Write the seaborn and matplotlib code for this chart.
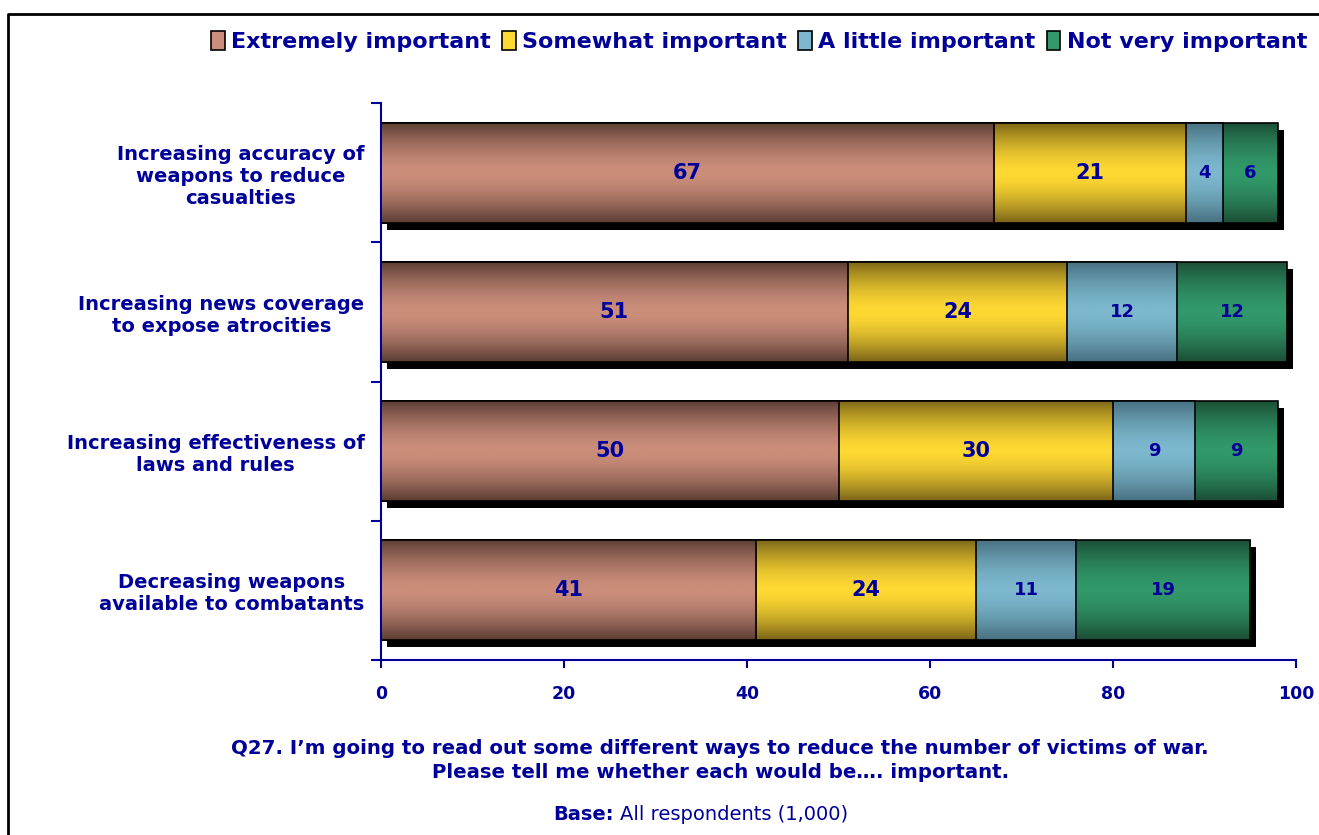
# Importar las bibliotecas necesarias
import numpy as np
import matplotlib
matplotlib.use("Agg")
import matplotlib.pyplot as plt
import seaborn as sns
from matplotlib.colors import LinearSegmentedColormap
from matplotlib.lines import Line2D
from matplotlib.patches import Patch, Rectangle
from matplotlib.transforms import offset_copy

# Datos del gráfico
categorias = [
    "Increasing accuracy of\nweapons to reduce\ncasualties",
    "Increasing news coverage\nto expose atrocities",
    "Increasing effectiveness of\nlaws and rules",
    "Decreasing weapons\navailable to combatants",
]
extremely = [67, 51, 50, 41]
somewhat = [21, 24, 30, 24]
little = [4, 12, 9, 11]
not_very = [6, 12, 9, 19]
nombres_series = ["Extremely important", "Somewhat important",
                  "A little important", "Not very important"]
x_ticks = [0, 20, 40, 60, 80, 100]

AZUL = "#000099"
# (color oscuro del borde, color claro del centro) para el degradado
colores = [("#5A3C32", "#CC8E7B"),
           ("#7A6418", "#FFD933"),
           ("#46707F", "#7DB8CE"),
           ("#1B4D34", "#31996A")]


def degradado(ax, parche, oscuro, claro, z):
    # Rellenar la barra con un degradado vertical oscuro-claro-oscuro
    cmap = LinearSegmentedColormap.from_list("g", [oscuro, claro])
    t = np.linspace(0, 1, 200)
    v = 1 - np.abs(2 * t - 1) ** 1.6
    x0, y0 = parche.get_x(), parche.get_y()
    w, h = parche.get_width(), parche.get_height()
    img = ax.imshow(v.reshape(-1, 1), cmap=cmap, vmin=0, vmax=1, aspect="auto",
                    extent=[x0, x0 + w, y0 + h, y0], zorder=z - 0.1,
                    interpolation="bilinear")
    img.set_clip_path(parche)


def dibujar_grafico():
    sns.set_style("white")
    plt.rcParams["font.family"] = ["DejaVu Sans"]

    series = [extremely, somewhat, little, not_very]
    acumulado = np.cumsum(series, axis=0)

    fig = plt.figure(figsize=(13.19, 8.35), dpi=100)
    ax = fig.add_axes([0.2889, 0.2096, 0.6937, 0.667])

    # Dibujar las barras apiladas desde el total hacia la primera serie
    for k in range(3, -1, -1):
        antes = len(ax.patches)
        sns.barplot(x=acumulado[k], y=categorias, orient="h", color=colores[k][1],
                    width=0.72, errorbar=None, edgecolor="black", linewidth=1.2,
                    ax=ax)
        z = 3 + (3 - k)
        for parche in ax.patches[antes:]:
            parche.set_facecolor("none")
            parche.set_zorder(z)
            degradado(ax, parche, colores[k][0], colores[k][1], z)
            if k == 3:
                # Sombra negra desplazada abajo a la derecha
                sombra = Rectangle((parche.get_x(), parche.get_y()),
                                   parche.get_width(), parche.get_height(),
                                   transform=offset_copy(ax.transData, fig=fig,
                                                         x=6, y=-7, units="dots"),
                                   facecolor="black", edgecolor="none", zorder=1)
                ax.add_patch(sombra)

    # Etiquetas de valores en el centro de cada segmento
    for k, valores in enumerate(series):
        for i, val in enumerate(valores):
            centro = acumulado[k][i] - val / 2
            ax.text(centro, i, str(val), ha="center", va="center", color=AZUL,
                    fontweight="bold", fontsize=15 if k < 2 else 13, zorder=20)

    # Ejes
    ax.set_xlim(0, 100)
    ax.set_ylim(3.5, -0.5)
    ax.set_xlabel("")
    ax.set_ylabel("")
    sns.despine(ax=ax)
    for lado in ["left", "bottom"]:
        ax.spines[lado].set_color(AZUL)
        ax.spines[lado].set_linewidth(1.5)

    ax.set_xticks(x_ticks, labels=[str(v) for v in x_ticks])
    ax.set_yticks([-0.5, 0.5, 1.5, 2.5, 3.5], labels=[])
    ax.set_yticks(range(len(categorias)), labels=categorias, minor=True)
    ax.tick_params(axis="x", direction="out", length=6, width=1.5, color=AZUL,
                   labelcolor=AZUL, labelsize=12.5, pad=12, bottom=True)
    ax.tick_params(axis="y", which="major", direction="out", length=7, width=1.5,
                   color=AZUL, left=True)
    ax.tick_params(axis="y", which="minor", length=0, pad=12, labelcolor=AZUL,
                   labelsize=14)
    for lbl in ax.get_xticklabels():
        lbl.set_fontweight("bold")
    for lbl in ax.get_yticklabels(minor=True):
        lbl.set_fontweight("bold")
        lbl.set_multialignment("center")

    # Leyenda superior
    manejadores = [Patch(facecolor=c[1], edgecolor="black", linewidth=1.2)
                   for c in colores]
    fig.legend(manejadores, nombres_series, loc="center right",
               bbox_to_anchor=(1.006, 0.95), ncol=4, frameon=False,
               handlelength=0.6, handleheight=0.9, handletextpad=0.3,
               columnspacing=0.5, prop=dict(weight="bold", size=16),
               labelcolor=AZUL)

    # Texto inferior
    fig.text(0.546, 1 - 748 / 835,
             "Q27. I\u2019m going to read out some different ways to reduce the number of victims of war.",
             ha="center", va="center", color=AZUL, fontweight="bold", fontsize=14.2)
    fig.text(0.546, 1 - 773 / 835,
             "Please tell me whether each would be\u2026. important.",
             ha="center", va="center", color=AZUL, fontweight="bold", fontsize=14.2)
    fig.text(614 / 1319, 1 - 815 / 835, "Base:", ha="right", va="center",
             color=AZUL, fontweight="bold", fontsize=14)
    fig.text(620 / 1319, 1 - 815 / 835, "All respondents (1,000)", ha="left",
             va="center", color=AZUL, fontsize=14)

    # Borde de la figura (solo izquierda y arriba)
    bx, by = 7.5 / 1319, 1 - 13.5 / 835
    fig.add_artist(Line2D([bx, bx, 1], [0, by, by], transform=fig.transFigure,
                          color="black", linewidth=2))

    fig.savefig("out.png", dpi=100)


def main():
    dibujar_grafico()


if __name__ == "__main__":
    main()
